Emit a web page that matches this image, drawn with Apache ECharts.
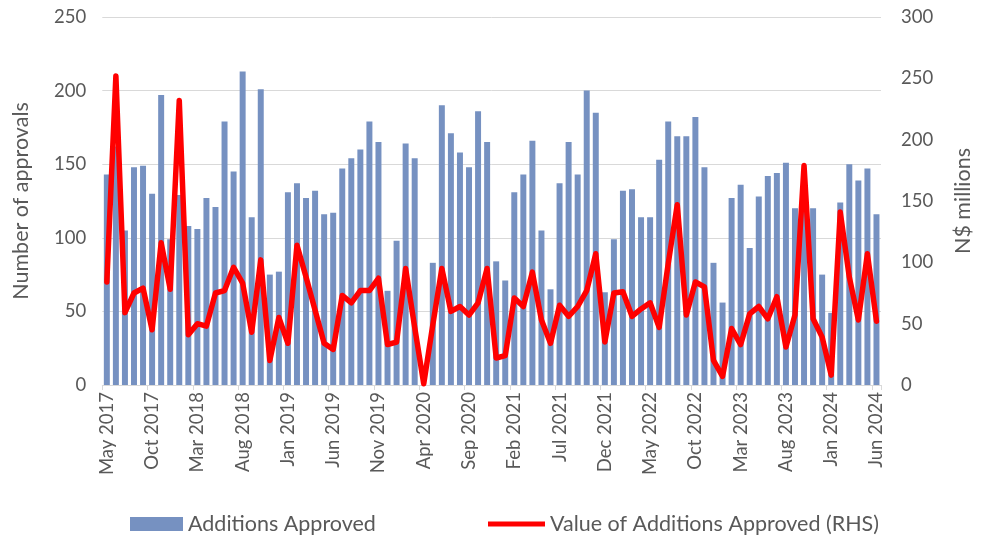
<!DOCTYPE html>
<html><head><meta charset="utf-8">
<script src="https://cdn.jsdelivr.net/npm/echarts@6/dist/echarts.min.js"></script>
<style>html,body{margin:0;padding:0;background:#fff}#c{width:982px;height:540px}</style>
</head><body><div id="c"></div>
<script>
const months = [
 'May 2017','Jun 2017','Jul 2017','Aug 2017','Sep 2017','Oct 2017','Nov 2017','Dec 2017',
 'Jan 2018','Feb 2018','Mar 2018','Apr 2018','May 2018','Jun 2018','Jul 2018','Aug 2018','Sep 2018','Oct 2018','Nov 2018','Dec 2018',
 'Jan 2019','Feb 2019','Mar 2019','Apr 2019','May 2019','Jun 2019','Jul 2019','Aug 2019','Sep 2019','Oct 2019','Nov 2019','Dec 2019',
 'Jan 2020','Feb 2020','Mar 2020','Apr 2020','May 2020','Jun 2020','Jul 2020','Aug 2020','Sep 2020','Oct 2020','Nov 2020','Dec 2020',
 'Jan 2021','Feb 2021','Mar 2021','Apr 2021','May 2021','Jun 2021','Jul 2021','Aug 2021','Sep 2021','Oct 2021','Nov 2021','Dec 2021',
 'Jan 2022','Feb 2022','Mar 2022','Apr 2022','May 2022','Jun 2022','Jul 2022','Aug 2022','Sep 2022','Oct 2022','Nov 2022','Dec 2022',
 'Jan 2023','Feb 2023','Mar 2023','Apr 2023','May 2023','Jun 2023','Jul 2023','Aug 2023','Sep 2023','Oct 2023','Nov 2023','Dec 2023',
 'Jan 2024','Feb 2024','Mar 2024','Apr 2024','May 2024','Jun 2024'
];
// Number of additions approved (left axis)
const additionsApproved = [
 143,162,105,148,149,130,197,99,129,108,106,127,121,179,145,213,114,201,75,77,
 131,137,127,132,116,117,147,154,160,179,165,64,98,164,154,0,83,190,171,158,
 148,186,165,84,71,131,143,166,105,65,137,165,143,200,185,63,99,132,133,114,
 114,153,179,169,169,182,148,83,56,127,136,93,128,142,144,151,120,122,120,75,
 49,124,150,139,147,116
];
// Value of additions approved, N$ millions (right axis)
const valueApproved = [
 84,252,59,75,79,45,116,78,232,41,50,48,75,77,96,83,43,102,20,55,
 34,114,88,61,34,29,73,67,77,77,87,33,35,95,47,1,49,95,60,64,
 57,67,95,22,24,71,64,92,53,34,65,56,64,77,107,35,75,76,56,62,
 67,47,99,147,57,84,80,20,7,46,33,58,64,54,72,31,57,179,54,39,
 8,141,88,53,107,52
];
const leftTicks = {min:0, max:250, interval:50};
const rightTicks = {min:0, max:300, interval:50};

const FONT = 'Lato';
const GREY = '#595959';
const legendText = {fontFamily:FONT, fontSize:21.5, color:GREY, lineHeight:22};
const chart = echarts.init(document.getElementById('c'), null, {renderer:'canvas'});
chart.setOption({
  animation:false,
  textStyle:{fontFamily:FONT},
  grid:{left:102.3, right:97.5, top:17, bottom:155, containLabel:false},
  legend:[
    {left:130, top:513, padding:0, itemWidth:53, itemHeight:14, itemGap:0,
     textStyle:legendText,
     data:[{name:'Additions Approved', icon:'rect'}]},
    {left:488, top:513, padding:0, itemWidth:57, itemHeight:5, itemGap:0,
     textStyle:legendText,
     data:[{name:'Value of Additions Approved (RHS)', icon:'rect'}]}
  ],
  xAxis:{
    type:'category', data:months, boundaryGap:true,
    axisLine:{show:true, lineStyle:{color:'#d9d9d9', width:1}},
    axisTick:{show:true, interval:4, length:5, alignWithLabel:false, lineStyle:{color:'#d9d9d9'}},
    axisLabel:{interval:4, rotate:90, margin:7, fontSize:18.5, color:GREY, fontFamily:FONT},
    splitLine:{show:false}
  },
  yAxis:[
    {type:'value', min:leftTicks.min, max:leftTicks.max, interval:leftTicks.interval,
     name:'Number of approvals', nameLocation:'middle', nameGap:70, nameRotate:90,
     nameTextStyle:{fontSize:21.5, color:GREY, fontFamily:FONT},
     axisLine:{show:false}, axisTick:{show:false},
     axisLabel:{fontSize:18.5, color:GREY, margin:16, fontFamily:FONT},
     splitLine:{show:true, lineStyle:{color:'#d9d9d9', width:1}}},
    {type:'value', min:rightTicks.min, max:rightTicks.max, interval:rightTicks.interval,
     name:'N$ millions', nameLocation:'middle', nameGap:71, nameRotate:90,
     nameTextStyle:{fontSize:21.5, color:GREY, fontFamily:FONT},
     axisLine:{show:false}, axisTick:{show:false},
     axisLabel:{fontSize:18.5, color:GREY, margin:20, fontFamily:FONT},
     splitLine:{show:false}}
  ],
  series:[
    {name:'Additions Approved', type:'bar', yAxisIndex:0, data:additionsApproved,
     barCategoryGap:'34%', itemStyle:{color:'#7691c1'}},
    {name:'Value of Additions Approved (RHS)', type:'line', yAxisIndex:1, data:valueApproved,
     symbol:'none', lineStyle:{color:'#ff0000', width:5.5, join:'round', cap:'round'}, itemStyle:{color:'#ff0000'}}
  ]
});
</script></body></html>
